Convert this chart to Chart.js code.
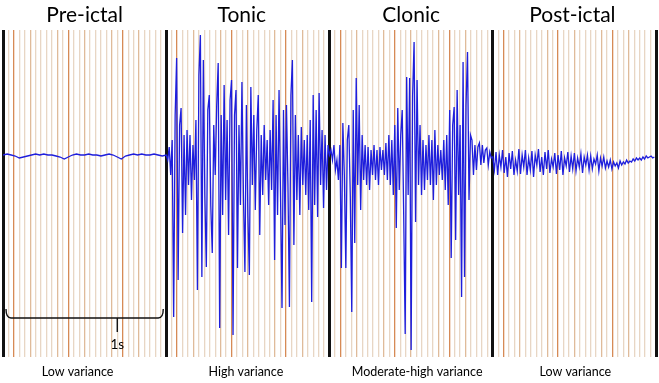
<!DOCTYPE html>
<html><head><meta charset="utf-8">
<script src="https://cdn.jsdelivr.net/npm/chart.js@4/dist/chart.umd.min.js"></script>
<style>html,body{margin:0;padding:0;background:#fff}#wrap{width:659px;height:383px}</style>
</head><body><div id="wrap"><canvas id="c" width="659" height="383"></canvas></div>
<script>
const phaseTitles = ['Pre-ictal', 'Tonic', 'Clonic', 'Post-ictal'];
const phaseNotes = ['Low variance', 'High variance', 'Moderate-high variance', 'Low variance'];
const scaleLabel = '1s';

const preIctal = [0,1,0,-1,-3,-2,-1,0,1,0,1,0,0,-1,-2,-4,-2,0,1,0,0,1,0,0,-1,0,1,0,-2,-4,-1,0,1,0,1,0,0,1,0,-1];

const tonic = [0,-5,8,-20,15,-162,40,97,-125,30,47,-78,20,-60,25,-30,20,-45,10,-25,
  35,-135,80,120,-122,95,-40,-112,45,60,-50,-98,30,-20,50,92,-173,40,-60,70,
  -45,35,-80,55,75,-180,40,65,-113,30,-50,73,-40,-117,50,-60,-120,68,-30,40,
  -55,25,60,-80,20,-40,30,-25,15,-50,25,-35,55,-105,40,-60,65,-40,-153,45,
  -70,50,-30,-152,60,95,-90,40,-45,20,-60,28,-30,15,-40,20,-55,35,-147,60,
  -50,45,-62,62,-30,25,-53,20,-35,10];

const clonic = [0,5,-5,10,-15,-5,-25,10,-113,32,-20,-113,15,30,-40,-157,45,-88,77,-30,
  50,-55,20,-25,10,-30,8,-35,5,-20,10,-25,5,-30,8,-15,5,-20,12,-25,
  20,-30,15,-40,30,-73,47,-35,20,45,-60,-179,78,-40,77,-195,60,113,-67,75,
  -30,30,-40,15,-35,10,-25,20,-30,15,-45,25,-30,10,-20,5,-25,15,-35,20,
  -50,45,-103,30,48,-85,65,-40,30,-142,93,-122,50,103,-45,20,15,-20,10,-15,
  8,12,-10,10,-8,5,7,-10,3,-3];

const postIctal = [-2,-15,3,-20,0,-12,5,-18,-2,-22,
  2,-14,4,-20,-5,-16,6,-19,0,-12,
  5,-20,-3,-15,4,-22,0,-10,6,-17,
  -2,-20,3,-14,5,-18,-4,-12,2,-19,
  0,-15,4,-20,-3,-11,3,-17,-1,-14,
  2,-16,-3,-12,1,-18,-2,-10,0,-15,
  -1,-14,-4,-9,0,-16,-3,-11,-2,-13,
  -6,-12,-5,-14,-7,-11,-8,-13,-6,-10,
  -7,-9,-5,-8,-6,-7,-4,-6,-3,-5,
  -3,-5,-2,-4,-1,-3,-2,-1,-3,-2];

const phases = [preIctal, tonic, clonic, postIctal];
const UNITS = 30; // grid divisions per phase (1 s)
const points = [];
phases.forEach((arr, p) => arr.forEach((v, i) => points.push({x: p * UNITS + i * UNITS / arr.length, y: v})));

const FONT = 'Lato, "Open Sans", sans-serif';

const annot = {
  id: 'annot',
  beforeDraw(chart) {
    const c = chart.ctx;
    c.save(); c.fillStyle = '#fff'; c.fillRect(0, 0, chart.width, chart.height); c.restore();
  },
  afterDraw(chart) {
    const c = chart.ctx, xs = chart.scales.x, area = chart.chartArea;
    c.save();
    c.fillStyle = '#000';
    c.textAlign = 'center'; c.textBaseline = 'middle';
    const titleOff = [0, -6, 0, -2];
    c.font = '21px ' + FONT;
    phaseTitles.forEach((t, i) => c.fillText(t, xs.getPixelForValue(i * UNITS + UNITS / 2) + titleOff[i], 15));
    c.font = '12.5px ' + FONT;
    const noteOff = [-7, -2, 6, 1];
    phaseNotes.forEach((t, i) => c.fillText(t, xs.getPixelForValue(i * UNITS + UNITS / 2) + noteOff[i], area.bottom + 15));
    // 1 s bracket
    const x0 = xs.getPixelForValue(0) + 3, x1 = xs.getPixelForValue(UNITS) - 3;
    const xm = xs.getPixelForValue(21);
    const yb = 318;
    c.strokeStyle = '#111'; c.lineWidth = 1.4;
    c.beginPath();
    c.moveTo(x0, yb - 9); c.quadraticCurveTo(x0, yb, x0 + 5, yb);
    c.lineTo(x1 - 5, yb); c.quadraticCurveTo(x1, yb, x1, yb - 9);
    c.moveTo(xm, yb); c.lineTo(xm, yb + 14);
    c.stroke();
    c.font = '13.5px ' + FONT;
    c.fillText(scaleLabel, xm, 345);
    c.restore();
  }
};

new Chart(document.getElementById('c'), {
  type: 'line',
  data: { datasets: [{ data: points, borderColor: 'rgb(30,30,220)', borderWidth: 1.3, pointRadius: 0, tension: 0, fill: false }] },
  options: {
    responsive: false, animation: false, events: [],
    layout: { padding: { top: 30, bottom: 26, left: 3, right: 3 } },
    plugins: { legend: { display: false }, tooltip: { enabled: false } },
    scales: {
      x: {
        type: 'linear', min: 0, max: 4 * UNITS,
        ticks: { display: false, stepSize: 1, autoSkip: false },
        border: { display: false },
        grid: {
          drawTicks: false,
          color: (ctx) => {
            const v = Math.round(ctx.tick.value), m = v % UNITS;
            if (m === 0) return '#111';
            if (m === 2 || m === 12 || m === 22) return '#d68a55';
            if (m % 5 === 0) return '#dfbb9a';
            return '#e8d6c4';
          },
          lineWidth: (ctx) => (Math.round(ctx.tick.value) % UNITS === 0 ? 3 : 1.3)
        }
      },
      y: { display: false, min: -202, max: 125 }
    }
  },
  plugins: [annot]
});
</script></body></html>
